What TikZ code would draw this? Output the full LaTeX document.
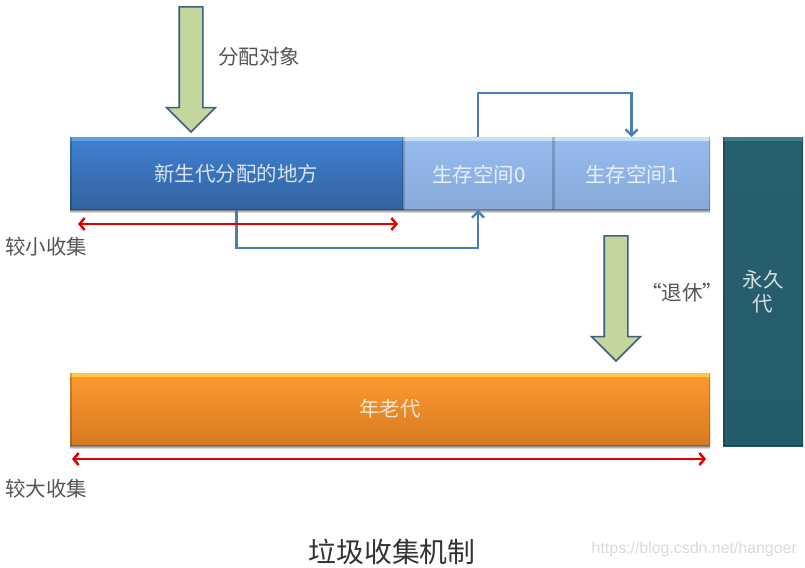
\documentclass[tikz,border=0pt]{standalone}
\usepackage{fontspec}
\setmainfont{Noto Sans CJK SC}
\newfontfamily\wmfont{Liberation Sans}
\usetikzlibrary{shapes.arrows,arrows.meta,calc}
\definecolor{blueT}{HTML}{5C9FE6}\definecolor{blueA}{HTML}{3F80D2}\definecolor{blueB}{HTML}{33639F}
\definecolor{survT}{HTML}{C4E4F6}\definecolor{survA}{HTML}{97BCEE}\definecolor{survB}{HTML}{86A9D9}
\definecolor{tealT}{HTML}{3F7E8C}\definecolor{tealA}{HTML}{265F6F}\definecolor{tealB}{HTML}{255C6B}
\definecolor{oranT}{HTML}{FFC648}\definecolor{oranA}{HTML}{FF9A30}\definecolor{oranB}{HTML}{D67A20}
\definecolor{gArrow}{HTML}{C3D69B}\definecolor{gEdge}{HTML}{3F5F7F}
\definecolor{linkcol}{HTML}{4A7EB8}\definecolor{ink}{HTML}{555555}
\tikzset{
  x=1pt,y=-1pt,
  bar/.style n args={3}{anchor=north west,inner sep=0pt,outer sep=0pt,top color=#2,bottom color=#3,
    path picture={
      \fill[#1] (path picture bounding box.north west) rectangle ([yshift=-4pt]path picture bounding box.north east);
      \fill[black,opacity=.18] (path picture bounding box.north west) rectangle ([xshift=1.5pt]path picture bounding box.south west);
      \fill[black,opacity=.18] ([xshift=-1.5pt]path picture bounding box.north east) rectangle (path picture bounding box.south east);
      \fill[black,opacity=.25] ([yshift=1.5pt]path picture bounding box.south west) rectangle (path picture bounding box.south east);
    }},
  boxtext/.style={text=white,text opacity=.8,font=\fontsize{20.5}{24}\selectfont,align=center},
  label/.style={text=ink,font=\fontsize{20.5}{24}\selectfont,inner sep=0pt},
  bigarrow/.style={single arrow,draw=gEdge,line width=1.6pt,fill=gArrow,shape border rotate=270,
    inner sep=11pt,single arrow head extend=12.5pt,single arrow head indent=0pt,outer sep=0pt},
  linkline/.style={draw=linkcol,line width=2.4pt,-{Straight Barb[length=6pt,width=12pt,line width=2.4pt]}},
  spanline/.style={draw=red!90!black,line width=2.5pt,{Straight Barb[length=5pt,width=12pt,line width=2.5pt]}-{Straight Barb[length=5pt,width=12pt,line width=2.5pt]}}
}
\begin{document}
\begin{tikzpicture}
\useasboundingbox (0,0) rectangle (805,567);
\fill[white] (0,0) rectangle (805,567);
% boxes
\node[bar={blueT}{blueA}{blueB},minimum width=333pt,minimum height=73pt] (young) at (70,137) {};
\node[bar={survT}{survA}{survB},minimum width=150pt,minimum height=73pt] (s0) at (403,137) {};
\node[bar={survT}{survA}{survB},minimum width=157pt,minimum height=73pt] (s1) at (553,137) {};
\node[bar={tealT}{tealA}{tealB},minimum width=80pt,minimum height=309pt] (perm) at (723,137) {};
\node[bar={oranT}{oranA}{oranB},minimum width=640pt,minimum height=73pt] (old) at (70,373) {};
% soft shadows under the boxes
\shade[top color=black!45,bottom color=white] (young.south west) rectangle ([yshift=-3pt]s1.south east);
\shade[top color=black!45,bottom color=white] (old.south west) rectangle ([yshift=-3pt]old.south east);
% box texts
\node[boxtext] (tyoung) at (236,174) {新生代分配的地方};
\node[boxtext] (ts0) at (479,175) {生存空间0};
\node[boxtext] (ts1) at (632,175) {生存空间1};
\node[boxtext] (tperm) at (763,292) {永久\\代};
\node[boxtext] (told) at (390,409) {年老代};
% block arrows
\node[bigarrow,minimum height=125pt] (alloc) at (191,63.5) {};
\node[bigarrow,minimum height=125pt] (retire) at (616,292.5) {};
% labels
\node[label,anchor=west] (lalloc) at (218,57) {分配对象};
\node[label,anchor=center] (lretire) at (682,293) {“退休”};
\node[label,anchor=west] (lminor) at (5,247) {较小收集};
\node[label,anchor=west] (lmajor) at (5,489) {较大收集};
\node[text=black!80,font=\fontsize{27.8}{32}\selectfont,inner sep=0pt] (title) at (392,552) {垃圾收集机制};
\node[text=black!14,font=\wmfont\fontsize{15.9}{20}\selectfont,inner sep=0pt,anchor=east] (wm) at (797,549) {https://blog.csdn.net/hangoer};
% connectors
\draw[linkline] (young.south) -- ++(0,38) -| (s0.south);
\draw[linkline] (s0.north) -- ++(0,-44) -| (s1.north);
% spans
\coordinate (a1) at (78,224); \coordinate (a2) at (398,224);
\coordinate (b1) at (72,459); \coordinate (b2) at (706,459);
\draw[spanline] (a1) -- (a2);
\draw[spanline] (b1) -- (b2);
\end{tikzpicture}
\end{document}
